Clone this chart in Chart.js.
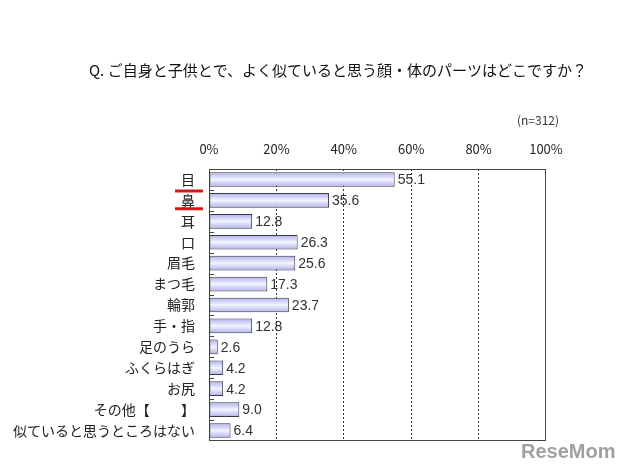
<!DOCTYPE html>
<html>
<head>
<meta charset="utf-8">
<script src="https://cdn.jsdelivr.net/npm/chart.js@4/dist/chart.umd.min.js"></script>
<style>
  html, body { margin: 0; padding: 0; background: #fff; }
  #wrap { width: 629px; height: 473px; position: relative; }
</style>
</head>
<body>
<div id="wrap"><canvas id="myChart" width="629" height="473"></canvas></div>
<script>
var titleText = 'Q. ご自身と子供とで、よく似ていると思う顔・体のパーツはどこですか？';
var sampleNote = '(n=312)';
var parts = ['目', '鼻', '耳', '口', '眉毛', 'まつ毛', '輪郭', '手・指', '足のうら', 'ふくらはぎ', 'お尻', 'その他【　　 】', '似ていると思うところはない'];
var percents = [55.1, 35.6, 12.8, 26.3, 25.6, 17.3, 23.7, 12.8, 2.6, 4.2, 4.2, 9.0, 6.4];
var highlighted = [1]; // 鼻 is marked with red lines

var jpFont = '"Noto Sans CJK JP", sans-serif';

// bars get a soft lavender gradient, lighter in the middle
function barFill(c) {
    var chart = c.chart;
    var y = chart.scales.y;
    if (!y || c.dataIndex === undefined) return '#d4d4f4';
    var cy = y.getPixelForValue(c.dataIndex);
    var half = y.height / parts.length * 0.36;
    if (!isFinite(cy) || !isFinite(half) || half <= 0) return '#d4d4f4';
    var g = chart.ctx.createLinearGradient(0, cy - half, 0, cy + half);
    g.addColorStop(0, '#adadea');
    g.addColorStop(0.5, '#f4f4ff');
    g.addColorStop(1, '#adadea');
    return g;
}

var extras = {
    id: 'extras',
    afterDraw: function(chart) {
        var ctx = chart.ctx;
        var a = chart.chartArea;
        var y = chart.scales.y;
        ctx.save();
        // title
        ctx.fillStyle = '#111';
        ctx.font = '15px ' + jpFont;
        ctx.textAlign = 'center';
        ctx.textBaseline = 'middle';
        ctx.fillText(titleText, 338, 70);
        ctx.font = '12px ' + jpFont;
        ctx.fillStyle = '#333';
        ctx.fillText(sampleNote, 538, 120);

        // frame
        ctx.strokeStyle = '#444';
        ctx.lineWidth = 1;
        ctx.strokeRect(a.left + 0.5, a.top + 0.5, a.right - a.left - 1, a.bottom - a.top - 1);

        // small inner ticks on the category axis
        var step = (a.bottom - a.top) / parts.length;
        ctx.beginPath();
        for (var i = 1; i < parts.length; i++) {
            var ty = Math.round(a.top + step * i) + 0.5;
            ctx.moveTo(a.left, ty);
            ctx.lineTo(a.left + 5, ty);
        }
        ctx.stroke();

        // red marks around the highlighted item
        ctx.strokeStyle = '#d81818';
        ctx.lineWidth = 3;
        highlighted.forEach(function(idx) {
            var cy = y.getPixelForValue(idx);
            ctx.beginPath();
            ctx.moveTo(175, cy - step / 2 + 1);
            ctx.lineTo(203, cy - step / 2 + 1);
            ctx.moveTo(175, cy + step / 2 - 2);
            ctx.lineTo(203, cy + step / 2 - 2);
            ctx.stroke();
        });

        // watermark
        ctx.fillStyle = '#a0a0a0';
        ctx.font = 'bold 20px "Liberation Sans", sans-serif';
        ctx.textAlign = 'left';
        ctx.textBaseline = 'alphabetic';
        ctx.fillText('ReseMom', 521, 458);
        ctx.restore();
    }
};

var valueLabels = {
    id: 'valueLabels',
    afterDatasetsDraw: function(chart) {
        var ctx = chart.ctx;
        var meta = chart.getDatasetMeta(0);
        ctx.save();
        ctx.fillStyle = '#333';
        ctx.font = '14px "Liberation Sans", sans-serif';
        ctx.textAlign = 'left';
        ctx.textBaseline = 'middle';
        meta.data.forEach(function(bar, i) {
            ctx.fillText(percents[i].toFixed(1), bar.x + 3, bar.y + 1);
        });
        ctx.restore();
    }
};

var ctx = document.getElementById('myChart').getContext('2d');
var myChart = new Chart(ctx, {
    type: 'bar',
    data: {
        labels: parts,
        datasets: [{
            data: percents,
            backgroundColor: barFill,
            borderColor: '#3a3a4a',
            borderWidth: 1,
            borderSkipped: false,
            categoryPercentage: 1,
            barPercentage: 0.7
        }]
    },
    options: {
        indexAxis: 'y',
        responsive: false,
        animation: false,
        events: [],
        layout: {
            padding: { left: 0, top: 0, right: 83, bottom: 32 }
        },
        scales: {
            x: {
                position: 'top',
                min: 0,
                max: 100,
                ticks: {
                    stepSize: 20,
                    color: '#222',
                    padding: 12,
                    font: { size: 13, family: jpFont },
                    callback: function(v) { return v + '%'; }
                },
                grid: {
                    drawTicks: false,
                    color: function(c) {
                        return (c.tick && (c.tick.value === 0 || c.tick.value === 100)) ? 'rgba(0,0,0,0)' : '#333';
                    },
                    lineWidth: 1
                },
                border: { display: false, dash: [2, 2] },
                afterFit: function(scale) { scale.height = 169; }
            },
            y: {
                ticks: {
                    color: '#222',
                    padding: 14,
                    font: { size: 14, family: jpFont }
                },
                grid: { display: false, drawTicks: false },
                border: { display: false },
                afterFit: function(scale) { scale.width = 209; }
            }
        },
        plugins: {
            legend: { display: false },
            title: { display: false },
            tooltip: { enabled: false }
        }
    },
    plugins: [valueLabels, extras]
});
</script>
</body>
</html>
